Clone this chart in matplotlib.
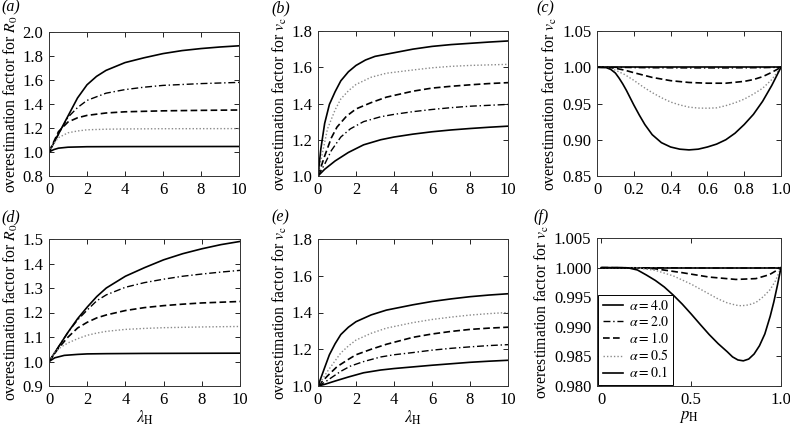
import matplotlib
matplotlib.use("Agg")
import matplotlib.pyplot as plt

plt.rcParams["font.family"] = ["Liberation Serif", "DejaVu Serif"]
plt.rcParams["mathtext.fontset"] = "stix"
plt.rcParams["font.size"] = 12

ALPHAS = ["4.0", "2.0", "1.0", "0.5", "0.1"]

# panel (a): R0 factor vs lambda_H, top row
A_X4 = [0, 0.5, 1, 1.5, 2, 2.5, 3, 4, 5, 6, 7, 8, 9, 10]
A_Y4 = [1.0, 1.15, 1.30, 1.45, 1.56, 1.63, 1.68, 1.745, 1.785, 1.82, 1.845, 1.862, 1.875, 1.885]
A_X2 = [0, 0.5, 1, 1.5, 2, 3, 4, 5, 6, 8, 10]
A_Y2 = [1.0, 1.15, 1.29, 1.37, 1.43, 1.49, 1.52, 1.54, 1.555, 1.57, 1.58]
A_X1 = [0, 0.5, 1, 1.5, 2, 3, 4, 6, 8, 10]
A_Y1 = [1.0, 1.17, 1.25, 1.285, 1.305, 1.325, 1.335, 1.343, 1.347, 1.35]
A_X05 = [0, 0.25, 0.5, 1, 1.5, 2, 3, 4, 6, 10]
A_Y05 = [1.0, 1.07, 1.12, 1.16, 1.175, 1.185, 1.19, 1.192, 1.194, 1.195]
A_X01 = [0, 0.25, 0.5, 1, 2, 4, 10]
A_Y01 = [1.0, 1.02, 1.032, 1.04, 1.044, 1.045, 1.046]

# panel (b): v_c factor vs lambda_H, top row
B_X01 = [0, 0.15, 0.35, 0.6, 0.9, 1.2, 1.6, 2, 2.5, 3, 4, 5, 6, 7, 8, 9, 10]
B_Y01 = [1.0, 1.15, 1.29, 1.395, 1.465, 1.525, 1.575, 1.61, 1.64, 1.66, 1.68, 1.70, 1.715, 1.725, 1.732, 1.739, 1.745]
B_X05 = [0, 0.2, 0.5, 0.9, 1.2, 1.6, 2, 2.8, 3.6, 5, 6, 7, 8, 9, 10]
B_Y05 = [1.0, 1.11, 1.26, 1.365, 1.425, 1.47, 1.505, 1.545, 1.567, 1.585, 1.597, 1.605, 1.61, 1.613, 1.616]
B_X1 = [0, 0.35, 0.7, 1, 1.5, 2, 2.8, 3.6, 5, 6, 7, 8, 9, 10]
B_Y1 = [1.0, 1.11, 1.21, 1.27, 1.33, 1.37, 1.405, 1.435, 1.468, 1.485, 1.495, 1.503, 1.51, 1.515]
B_X2 = [0, 0.35, 0.7, 1.2, 1.7, 2.4, 3.3, 4, 5, 6, 7, 8, 9, 10]
B_Y2 = [1.0, 1.065, 1.14, 1.215, 1.26, 1.30, 1.327, 1.34, 1.355, 1.367, 1.377, 1.385, 1.39, 1.395]
B_X4 = [0, 0.35, 0.9, 1.6, 2.4, 3.3, 4, 5, 6, 7, 8, 9, 10]
B_Y4 = [1.0, 1.037, 1.083, 1.13, 1.172, 1.20, 1.215, 1.231, 1.244, 1.254, 1.262, 1.269, 1.275]

# panel (c): v_c factor vs p_H, top row
C_X01 = [0, 0.05, 0.075, 0.1, 0.12, 0.14, 0.16, 0.18, 0.2, 0.23, 0.26, 0.3, 0.35, 0.4, 0.45, 0.5,
         0.55, 0.6, 0.65, 0.7, 0.75, 0.8, 0.85, 0.9, 0.95, 1.0]
C_Y01 = [1.0, 0.9995, 0.997, 0.992, 0.985, 0.977, 0.968, 0.958, 0.948, 0.934, 0.921, 0.907, 0.896, 0.890,
         0.887, 0.886, 0.887, 0.890, 0.894, 0.900, 0.909, 0.921, 0.935, 0.953, 0.975, 1.0]
C_X05 = [0, 0.05, 0.1, 0.15, 0.2, 0.25, 0.3, 0.35, 0.4, 0.45, 0.5, 0.55, 0.6, 0.65, 0.7, 0.75, 0.8,
         0.85, 0.9, 0.95, 1.0]
C_Y05 = [1.0, 0.9995, 0.996, 0.990, 0.982, 0.973, 0.965, 0.958, 0.952, 0.948, 0.945, 0.9437, 0.9435,
         0.944, 0.947, 0.951, 0.956, 0.963, 0.971, 0.983, 1.0]
C_X1 = [0, 0.05, 0.1, 0.15, 0.2, 0.3, 0.4, 0.5, 0.6, 0.7, 0.8, 0.85, 0.9, 0.95, 1.0]
C_Y1 = [1.0, 0.9998, 0.9986, 0.996, 0.9925, 0.986, 0.9815, 0.979, 0.978, 0.978, 0.9805, 0.983, 0.987, 0.993, 1.0]
C_X2 = [0, 0.1, 0.3, 0.5, 0.7, 0.9, 1.0]
C_Y2 = [1.0, 0.9998, 0.9992, 0.999, 0.999, 0.9993, 1.0]
C_X4 = [0, 0.5, 1.0]
C_Y4 = [1.0, 1.0, 1.0]

# panel (d): R0 factor vs lambda_H, bottom row
D_X4 = [0, 0.5, 1, 1.5, 2, 2.5, 3, 4, 5, 6, 7, 8, 9, 10]
D_Y4 = [1.0, 1.06, 1.12, 1.175, 1.222, 1.265, 1.30, 1.348, 1.383, 1.415, 1.44, 1.46, 1.477, 1.49]
D_X2 = [0, 0.5, 1, 1.5, 2, 2.5, 3, 4, 5, 6, 7, 8, 9, 10]
D_Y2 = [1.0, 1.06, 1.12, 1.17, 1.21, 1.248, 1.272, 1.303, 1.322, 1.336, 1.348, 1.357, 1.365, 1.372]
D_X1 = [0, 0.5, 1, 1.5, 2, 2.5, 3, 4, 5, 6, 7, 8, 9, 10]
D_Y1 = [1.0, 1.055, 1.10, 1.137, 1.16, 1.178, 1.19, 1.208, 1.22, 1.228, 1.234, 1.239, 1.242, 1.245]
D_X05 = [0, 0.3, 0.65, 1, 1.5, 2, 2.5, 3, 4, 5, 6, 8, 10]
D_Y05 = [1.0, 1.039, 1.06, 1.076, 1.093, 1.107, 1.116, 1.123, 1.131, 1.135, 1.138, 1.141, 1.143]
D_X01 = [0, 0.3, 0.8, 1.5, 2, 3, 5, 10]
D_Y01 = [1.0, 1.015, 1.025, 1.029, 1.031, 1.032, 1.033, 1.034]

# panel (e): v_c factor vs lambda_H, bottom row
E_X01 = [0, 0.35, 0.6, 0.9, 1.2, 1.6, 2, 2.8, 3.6, 5, 6, 7, 8, 9, 10]
E_Y01 = [1.0, 1.10, 1.17, 1.23, 1.28, 1.32, 1.35, 1.387, 1.413, 1.442, 1.46, 1.474, 1.486, 1.495, 1.502]
E_X05 = [0, 0.5, 0.9, 1.2, 1.6, 2, 2.8, 3.6, 5, 6, 7, 8, 9, 10]
E_Y05 = [1.0, 1.08, 1.137, 1.18, 1.218, 1.25, 1.287, 1.315, 1.345, 1.362, 1.375, 1.386, 1.394, 1.40]
E_X1 = [0, 0.5, 1, 1.6, 2, 2.8, 3.6, 5, 6, 7, 8, 9, 10]
E_Y1 = [1.0, 1.055, 1.105, 1.145, 1.17, 1.20, 1.227, 1.265, 1.283, 1.297, 1.308, 1.315, 1.32]
E_X2 = [0, 0.35, 0.7, 1.2, 1.7, 2.4, 3.3, 4, 5, 6, 7, 8, 9, 10]
E_Y2 = [1.0, 1.02, 1.045, 1.08, 1.108, 1.133, 1.158, 1.17, 1.182, 1.195, 1.205, 1.213, 1.22, 1.225]
E_X4 = [0, 0.35, 0.9, 1.6, 2.4, 3.3, 4, 5, 6, 7, 8, 9, 10]
E_Y4 = [1.0, 1.009, 1.027, 1.049, 1.072, 1.087, 1.095, 1.104, 1.113, 1.121, 1.129, 1.135, 1.14]

# panel (f): v_c factor vs p_H, bottom row
F_X01 = [0, 0.1, 0.15, 0.2, 0.25, 0.3, 0.35, 0.4, 0.45, 0.5, 0.55, 0.6, 0.65, 0.7, 0.73, 0.76, 0.79,
         0.82, 0.85, 0.88, 0.91, 0.94, 0.96, 0.98, 1.0]
F_Y01 = [1.0, 1.0, 0.99995, 0.9996, 0.99875, 0.99783, 0.99672, 0.99535, 0.99383, 0.99215, 0.99040,
         0.98869, 0.98715, 0.98580, 0.98492, 0.98440, 0.98425, 0.98455, 0.98540, 0.98680, 0.98880,
         0.99180, 0.99420, 0.99700, 1.0]
F_X05 = [0, 0.2, 0.3, 0.4, 0.5, 0.6, 0.65, 0.7, 0.75, 0.78, 0.82, 0.86, 0.9, 0.94, 0.97, 1.0]
F_Y05 = [1.0, 0.99995, 0.99954, 0.9986, 0.9972, 0.99554, 0.9947, 0.99405, 0.99365, 0.99355, 0.9937,
         0.9941, 0.99505, 0.9963, 0.9978, 1.0]
F_X1 = [0, 0.2, 0.30, 0.45, 0.6, 0.749, 0.86, 0.935, 0.98, 1.0]
F_Y1 = [1.0, 0.99995, 0.9998, 0.99914, 0.9984, 0.998, 0.99814, 0.9988, 0.9996, 1.0]
F_X2 = [0, 0.3, 0.6, 0.85, 1.0]
F_Y2 = [1.0, 0.99998, 0.99993, 0.99993, 1.0]
F_X4 = [0, 0.5, 1.0]
F_Y4 = [1.0, 1.0, 1.0]

STYLE = {
    "4.0": dict(color="black", ls="-", lw=1.2),
    "2.0": dict(color="black", ls=(0, (5, 2, 1, 2)), lw=1.0),
    "1.0": dict(color="black", ls=(0, (4, 2)), lw=1.2),
    "0.5": dict(color="#8a8a8a", ls=(0, (1, 1.5)), lw=1.0),
    "0.1": dict(color="black", ls="-", lw=1.2),
}

PX_W, PX_H = 790, 426
LABEL_SIZE = 11.3


def box(l, r, t, b):
    return [l / PX_W, 1 - b / PX_H, (r - l) / PX_W, (b - t) / PX_H]


def style_axes(ax):
    ax.tick_params(direction="in", top=True, right=True, length=3.5, width=0.6, pad=4, labelsize=12)
    for s in ax.spines.values():
        s.set_linewidth(0.7)
        s.set_color("#333333")


fig = plt.figure(figsize=(7.9, 4.26), dpi=100)

panels = [
    ("a", box(49, 239, 32, 176), [(A_X4, A_Y4), (A_X2, A_Y2), (A_X1, A_Y1), (A_X05, A_Y05), (A_X01, A_Y01)]),
    ("b", box(318, 508, 31, 176), [(B_X4, B_Y4), (B_X2, B_Y2), (B_X1, B_Y1), (B_X05, B_Y05), (B_X01, B_Y01)]),
    ("c", box(597, 781, 31, 176), [(C_X4, C_Y4), (C_X2, C_Y2), (C_X1, C_Y1), (C_X05, C_Y05), (C_X01, C_Y01)]),
    ("d", box(49, 240, 239, 386), [(D_X4, D_Y4), (D_X2, D_Y2), (D_X1, D_Y1), (D_X05, D_Y05), (D_X01, D_Y01)]),
    ("e", box(318, 508, 239, 386), [(E_X4, E_Y4), (E_X2, E_Y2), (E_X1, E_Y1), (E_X05, E_Y05), (E_X01, E_Y01)]),
    ("f", box(597, 781, 238, 386), [(F_X4, F_Y4), (F_X2, F_Y2), (F_X1, F_Y1), (F_X05, F_Y05), (F_X01, F_Y01)]),
]

axes = {}
for name, rect, series in panels:
    ax = fig.add_axes(rect)
    for a, (xs, ys) in zip(ALPHAS, series):
        ax.plot(xs, ys, label=r"$\alpha = %s$" % a, **STYLE[a])
    style_axes(ax)
    axes[name] = ax

r0_label = r"overestimation factor for $R_0$"
vc_label = r"overestimation factor for $v_\mathrm{c}$"

for name in ["a", "b", "d", "e"]:
    ax = axes[name]
    ax.set_xlim(0, 10)
    ax.set_xticks([0, 2, 4, 6, 8, 10])

axes["a"].set_ylim(0.8, 2.0)
axes["a"].set_yticks([0.8, 1.0, 1.2, 1.4, 1.6, 1.8, 2.0])
axes["a"].set_yticklabels(["0.8", "1.0", "1.2", "1.4", "1.6", "1.8", "2.0"])
axes["a"].set_ylabel(r0_label, labelpad=2, fontsize=LABEL_SIZE)

axes["b"].set_ylim(1.0, 1.8)
axes["b"].set_yticks([1.0, 1.2, 1.4, 1.6, 1.8])
axes["b"].set_yticklabels(["1.0", "1.2", "1.4", "1.6", "1.8"])
axes["b"].set_ylabel(vc_label, labelpad=2, fontsize=LABEL_SIZE)

axes["c"].set_xlim(0, 1)
axes["c"].set_xticks([0, 0.2, 0.4, 0.6, 0.8, 1.0])
axes["c"].set_xticklabels(["0", "0.2", "0.4", "0.6", "0.8", "1.0"])
axes["c"].set_ylim(0.85, 1.05)
axes["c"].set_yticks([0.85, 0.90, 0.95, 1.00, 1.05])
axes["c"].set_yticklabels(["0.85", "0.90", "0.95", "1.00", "1.05"])
axes["c"].set_ylabel(vc_label, labelpad=2, fontsize=LABEL_SIZE)

axes["d"].set_ylim(0.9, 1.5)
axes["d"].set_yticks([0.9, 1.0, 1.1, 1.2, 1.3, 1.4, 1.5])
axes["d"].set_yticklabels(["0.9", "1.0", "1.1", "1.2", "1.3", "1.4", "1.5"])
axes["d"].set_ylabel(r0_label, labelpad=2, fontsize=LABEL_SIZE)
axes["d"].set_xlabel(r"$\lambda_\mathrm{H}$", labelpad=1)

axes["e"].set_ylim(1.0, 1.8)
axes["e"].set_yticks([1.0, 1.2, 1.4, 1.6, 1.8])
axes["e"].set_yticklabels(["1.0", "1.2", "1.4", "1.6", "1.8"])
axes["e"].set_ylabel(vc_label, labelpad=2, fontsize=LABEL_SIZE)
axes["e"].set_xlabel(r"$\lambda_\mathrm{H}$", labelpad=1)

axes["f"].set_xlim(-0.025, 1.0)
axes["f"].set_xticks([0, 0.5, 1.0])
axes["f"].set_xticklabels(["0", "0.5", "1.0"])
axes["f"].set_ylim(0.980, 1.005)
axes["f"].set_yticks([0.980, 0.985, 0.990, 0.995, 1.000, 1.005])
axes["f"].set_yticklabels(["0.980", "0.985", "0.990", "0.995", "1.000", "1.005"])
axes["f"].set_ylabel(vc_label, labelpad=2, fontsize=LABEL_SIZE)
axes["f"].set_xlabel(r"$p_\mathrm{H}$", labelpad=1)

leg = axes["f"].legend(loc="lower left", fontsize=10, handlelength=1.5, handletextpad=0.4,
                       labelspacing=0.15, borderpad=0.3, borderaxespad=0.1, fancybox=False,
                       framealpha=1, edgecolor="black")
leg.get_frame().set_linewidth(0.7)

# panel letters
letter_pos = {"a": (1, 7), "b": (271, 8), "c": (536, 8), "d": (1, 217), "e": (271, 217), "f": (533, 217)}
for name, (px, py) in letter_pos.items():
    fig.text(px / PX_W, 1 - py / PX_H, "(%s)" % name, fontsize=11.5, style="italic", va="center", ha="left")

fig.savefig("out.png", dpi=100)
